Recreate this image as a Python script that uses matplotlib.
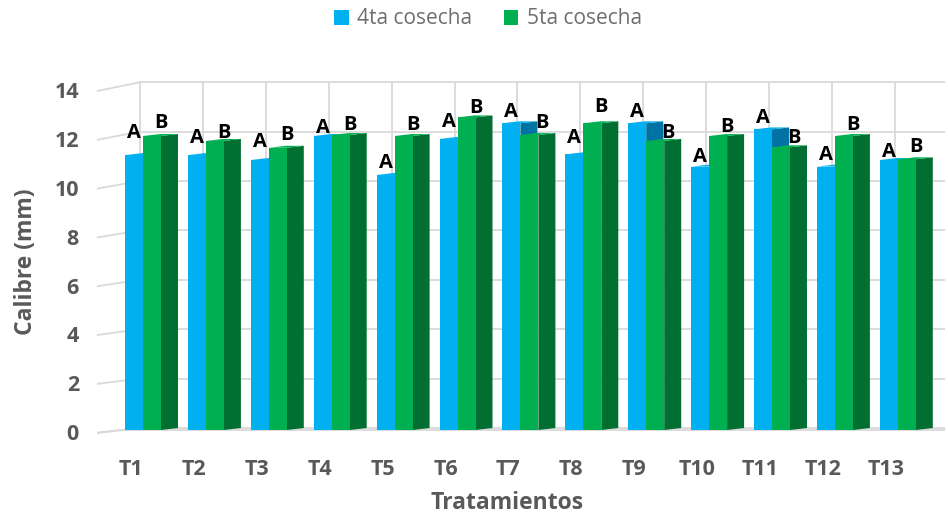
import matplotlib
matplotlib.use('Agg')
import matplotlib.pyplot as plt
from matplotlib.patches import Polygon, Patch

# ---------------- data ----------------
categories = ['T1', 'T2', 'T3', 'T4', 'T5', 'T6', 'T7', 'T8', 'T9', 'T10', 'T11', 'T12', 'T13']
cosecha4 = [11.22, 11.22, 11.02, 12.00, 10.41, 11.88, 12.52, 11.25, 12.52, 10.75, 12.27, 10.75, 11.02]
cosecha5 = [12.00, 11.80, 11.52, 12.04, 12.00, 12.76, 12.04, 12.52, 11.80, 12.00, 11.54, 12.00, 11.05]
letters4 = ['A'] * 13
letters5 = ['B'] * 13
# heights (axis units) at which the letters were placed in the original
letter_y4 = [11.92, 11.71, 11.55, 12.12, 10.69, 12.37, 12.78, 11.71, 12.78, 10.94, 12.53, 11.02, 11.14]
letter_y5 = [12.33, 11.92, 11.84, 12.24, 12.24, 12.94, 12.33, 12.98, 11.92, 12.16, 11.71, 12.24, 11.35]
series_names = ['4ta cosecha', '5ta cosecha']
yticks = [0, 2, 4, 6, 8, 10, 12, 14]

# ---------------- style ----------------
W, H = 948, 515
FONT = ['Open Sans', 'DejaVu Sans']
plt.rcParams['font.family'] = FONT
BLUE, BLUE_SIDE = '#00B0F0', '#0072A3'
GREEN, GREEN_SIDE = '#00B050', '#006F31'
GRID = '#D9D9D9'
TXT = '#595959'

# pixel mapping of the plotting plane
X0, XS = 143.0, 62.9      # px of category 0 centre, px per category
Y0, YS = 430.0, 24.5      # px of value 0, px per unit
AX_L, AX_R, AX_T, AX_B = 97, 945, 70, 442

fig = plt.figure(figsize=(W / 100, H / 100), dpi=100)
ax = fig.add_axes([AX_L / W, 1 - AX_B / H, (AX_R - AX_L) / W, (AX_B - AX_T) / H])
ax.set_xlim((AX_L - X0) / XS, (AX_R - X0) / XS)
ax.set_ylim((Y0 - AX_B) / YS, (Y0 - AX_T) / YS)
for s in ax.spines.values():
    s.set_visible(False)

xl = (AX_L - X0) / XS
xr = (AX_R - X0) / XS
wall_x = (140 - X0) / XS
def wall_y(v):
    return 0.082 + 1.008 * v
def front_y(v):
    return -0.11 + 0.996 * v

# back wall grid + left wall slanted lines
for v in yticks:
    ax.plot([wall_x, xr], [wall_y(v), wall_y(v)], color=GRID, lw=1.3, zorder=1, solid_capstyle='butt')
    ax.plot([xl, wall_x], [front_y(v), wall_y(v)], color=GRID, lw=1.3, zorder=1)
for k in range(len(categories)):
    ax.plot([wall_x + k, wall_x + k], [wall_y(0), wall_y(14)], color=GRID, lw=1.3, zorder=1)
# floor front edge
ax.plot([xl, (122 - X0) / XS], [-0.12, 0.0], color=GRID, lw=1.3, zorder=1)
ax.plot([(122 - X0) / XS, xr], [0.0, 0.0], color=GRID, lw=1.3, zorder=1)

# bars
n = len(categories)
w = 18.0 / XS
dx = 17.0 / XS
dy = 0.08
xs = list(range(n))
xb = [x - w / 2 for x in xs]
xg = [x + w / 2 for x in xs]

for i in range(n):
    b, g = cosecha4[i], cosecha5[i]
    x0 = xb[i] - w / 2
    x1 = x0 + w
    ax.add_patch(Polygon([(x1, 0), (x1 + dx, dy), (x1 + dx, b + dy), (x1, b)],
                         closed=True, fc=BLUE_SIDE, ec='none', zorder=3))
    ax.add_patch(Polygon([(x0, b), (x1, b), (x1 + dx, b + dy), (x0 + dx, b + dy)],
                         closed=True, fc=BLUE, ec='none', zorder=3))
    g0 = x1
    g1 = g0 + w
    ax.add_patch(Polygon([(g1, 0), (g1 + dx, dy), (g1 + dx, g + dy), (g1, g)],
                         closed=True, fc=GREEN_SIDE, ec='none', zorder=4))
    ax.add_patch(Polygon([(g0, g), (g1, g), (g1 + dx, g + dy), (g0 + dx, g + dy)],
                         closed=True, fc=GREEN, ec='none', zorder=4))

ax.bar(xb, cosecha4, width=w, color=BLUE, zorder=3.5, linewidth=0)
ax.bar(xg, cosecha5, width=w, color=GREEN, zorder=4.5, linewidth=0)

# letters
for i in range(n):
    ax.text(xb[i], letter_y4[i], letters4[i], ha='center', va='baseline',
            fontsize=14.5, fontweight='bold', color='black', zorder=6)
    bx = xg[i] + w / 2 + (0.06 if cosecha4[i] > cosecha5[i] else 0.0)
    ax.text(bx, letter_y5[i], letters5[i], ha='center', va='baseline',
            fontsize=14.5, fontweight='bold', color='black', zorder=6)

# ticks
ax.set_xticks([x - 12.0 / XS for x in xs])
ax.set_xticklabels(categories)
ax.set_yticks([front_y(v) + 0.03 for v in yticks])
ax.set_yticklabels([str(v) for v in yticks])
ax.tick_params(axis='both', length=0, labelsize=15.5, labelcolor=TXT)
ax.tick_params(axis='x', pad=12)
ax.tick_params(axis='y', pad=13)
for lab in ax.get_xticklabels() + ax.get_yticklabels():
    lab.set_fontweight('bold')

fig.text(26 / W, 1 - 262 / H, 'Calibre (mm)', rotation=90, ha='center', va='center',
         fontsize=16.5, fontweight='bold', color=TXT)
fig.text(507 / W, 1 - 503 / H, 'Tratamientos', ha='center', va='center',
         fontsize=16.5, fontweight='bold', color=TXT)

handles = [Patch(facecolor=BLUE, edgecolor='none'), Patch(facecolor=GREEN, edgecolor='none')]
fig.legend(handles, series_names, loc='center', bbox_to_anchor=(488 / W, 1 - 19 / H),
           ncol=2, frameon=False, fontsize=15, labelcolor='#6E6E6E',
           handlelength=0.7, handleheight=0.7, handletextpad=0.4, columnspacing=1.5)

fig.savefig('out.png', dpi=100)
